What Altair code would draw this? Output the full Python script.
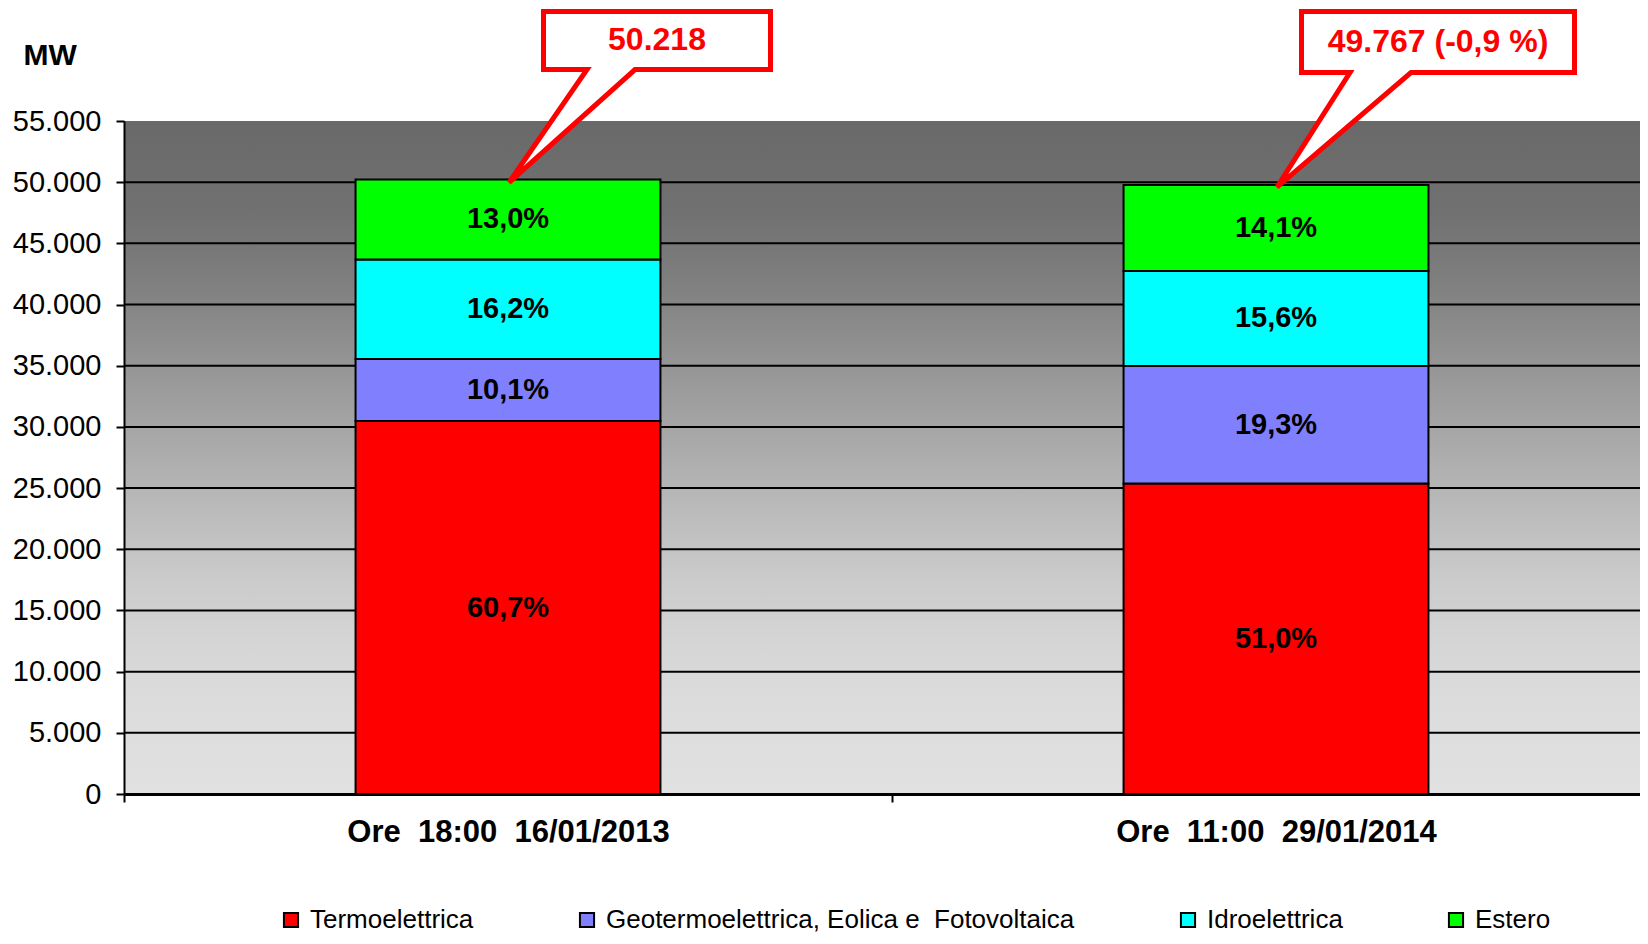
import altair as alt
import pandas as pd

# ---- data ----
categories = ["Ore\u00a0 18:00\u00a0 16/01/2013", "Ore\u00a0 11:00\u00a0 29/01/2014"]
sources = ["Termoelettrica", "Geotermoelettrica, Eolica e\u00a0 Fotovoltaica", "Idroelettrica", "Estero"]
colors = ["#FF0000", "#8080FF", "#00FFFF", "#00FF00"]

termo_mw = [30482, 25381]
geo_mw = [5072, 9605]
idro_mw = [8135, 7764]
estero_mw = [6528, 7017]

termo_pct = ["60,7%", "51,0%"]
geo_pct = ["10,1%", "19,3%"]
idro_pct = ["16,2%", "15,6%"]
estero_pct = ["13,0%", "14,1%"]

totals = [50218, 49767]
callout_labels = ["50.218", "49.767 (-0,9 %)"]

y_ticks = [0, 5000, 10000, 15000, 20000, 25000, 30000, 35000, 40000, 45000, 50000, 55000]
grid_values = [5000, 10000, 15000, 20000, 25000, 30000, 35000, 40000, 45000, 50000]

# ---- tables ----
rows = []
for si, (src, mws, pcts) in enumerate(zip(sources,
                                          [termo_mw, geo_mw, idro_mw, estero_mw],
                                          [termo_pct, geo_pct, idro_pct, estero_pct])):
    for ci, cat in enumerate(categories):
        rows.append({"cat": cat, "source": src, "mw": mws[ci], "pct": pcts[ci], "ord": si})
df = pd.DataFrame(rows)
df_grid = pd.DataFrame({"v": grid_values})
df_bg = pd.DataFrame({"a": [0]})
df_call1 = pd.DataFrame({"cat": [categories[0]], "total": [totals[0]], "label": [callout_labels[0]]})
df_call2 = pd.DataFrame({"cat": [categories[1]], "total": [totals[1]], "label": [callout_labels[1]]})

FONT = "Liberation Sans, Arial, Helvetica, sans-serif"

# the original plot area runs past the right edge of the picture
xscale = alt.Scale(domain=categories, paddingInner=0, paddingOuter=0, range=[0, 1536])
yscale = alt.Scale(domain=[0, 55000], nice=False, zero=True)

x_axis = alt.Axis(title=None, labelAngle=0, labelFont=FONT, labelFontSize=31,
                  labelFontWeight="bold", labelColor="black", labelPadding=15, labelLimit=0,
                  tickBand="extent", tickSize=8, tickColor="black", tickWidth=2,
                  domainColor="black", domainWidth=3, grid=False, zindex=1)

y_axis = alt.Axis(title="MW", titleAngle=0, titleX=-101, titleY=-57,
                  titleAlign="left", titleBaseline="alphabetic",
                  titleFont=FONT, titleFontSize=30, titleFontWeight="bold",
                  titleColor="black",
                  values=y_ticks, labelExpr="replace(format(datum.value, ','), ',', '.')",
                  labelFont=FONT, labelFontSize=29, labelColor="black", labelPadding=15,
                  tickSize=8, tickColor="black", tickWidth=2,
                  domainColor="black", domainWidth=2, grid=False, zindex=1)

def xenc():
    return alt.X("cat:N", scale=xscale, sort=categories, axis=x_axis)

# background gradient
grad = alt.Gradient(
    gradient="linear", x1=0, x2=0, y1=0, y2=1,
    stops=[
        alt.GradientStop(offset=0.0, color="#696969"),
        alt.GradientStop(offset=0.136, color="#717171"),
        alt.GradientStop(offset=0.227, color="#7d7d7d"),
        alt.GradientStop(offset=0.318, color="#8d8d8d"),
        alt.GradientStop(offset=0.409, color="#9d9d9d"),
        alt.GradientStop(offset=0.5, color="#adadad"),
        alt.GradientStop(offset=0.591, color="#bdbdbd"),
        alt.GradientStop(offset=0.682, color="#cbcbcb"),
        alt.GradientStop(offset=0.773, color="#d5d5d5"),
        alt.GradientStop(offset=0.864, color="#dcdcdc"),
        alt.GradientStop(offset=1.0, color="#e1e1e1"),
    ],
)
bg = alt.Chart(df_bg).mark_rect(color=grad).encode(
    x=alt.value(0), x2=alt.value("width"), y=alt.value(0), y2=alt.value("height")
)

grid = alt.Chart(df_grid).mark_rule(color="black", strokeWidth=2).encode(
    y=alt.Y("v:Q", scale=yscale, axis=y_axis),
    x=alt.value(0), x2=alt.value("width"),
)

bars = alt.Chart(df).mark_bar(stroke="black", strokeWidth=2, opacity=1,
                              width=alt.RelativeBandSize(0.397)).encode(
    x=xenc(),
    y=alt.Y("mw:Q", scale=yscale, stack="zero", axis=y_axis),
    color=alt.Color("source:N", scale=alt.Scale(domain=sources, range=colors),
                    legend=alt.Legend(orient="none", legendX=154, legendY=786,
                                      direction="horizontal", title=None,
                                      labelFont=FONT, labelFontSize=26, labelColor="black",
                                      labelOffset=6, columnPadding=100, labelLimit=0,
                                      symbolType="square", symbolSize=200,
                                      symbolStrokeColor="black", symbolStrokeWidth=2,
                                      symbolOpacity=1, padding=0)),
    order=alt.Order("ord:Q", sort="ascending"),
)

labels = alt.Chart(df).transform_stack(
    stack="mw", groupby=["cat"], sort=[alt.SortField("ord", order="ascending")], as_=["y0", "y1"]
).transform_calculate(mid="(datum.y0 + datum.y1) / 2").mark_text(
    font=FONT, fontSize=29, fontWeight="bold", color="black", align="center", baseline="middle"
).encode(
    x=xenc(),
    y=alt.Y("mid:Q", scale=yscale, axis=y_axis),
    text="pct:N",
)

path1 = "M0.01,0.03 L0.79,-1.10 L0.355,-1.10 L0.355,-1.68 L2.625,-1.68 L2.625,-1.10 L1.27,-1.10 Z"
path2 = "M0.01,0.02 L0.74,-1.125 L0.255,-1.125 L0.255,-1.735 L2.985,-1.735 L2.985,-1.125 L1.35,-1.125 Z"

def callout(d, path, dx, dy):
    box = alt.Chart(d).mark_point(shape=path, size=40000, filled=True, fill="white",
                                  stroke="#FF0000", strokeWidth=5, opacity=1,
                                  fillOpacity=1, strokeOpacity=1).encode(
        x=xenc(),
        y=alt.Y("total:Q", scale=yscale, axis=y_axis),
    )
    txt = alt.Chart(d).mark_text(font=FONT, fontSize=32, fontWeight="bold", color="#FF0000",
                                 align="center", baseline="middle", dx=dx, dy=dy).encode(
        x=xenc(),
        y=alt.Y("total:Q", scale=yscale, axis=y_axis),
        text="label:N",
    )
    return box + txt

chart = alt.layer(
    bg, grid, bars, labels,
    callout(df_call1, path1, 149, -140),
    callout(df_call2, path2, 162, -143),
).properties(
    width=1516, height=673,
    autosize=alt.AutoSizeParams(type="none"),
    padding={"left": 116, "top": 113, "right": 0, "bottom": 142},
).configure_view(stroke=None).configure(background="white")

chart.save("out.html", embed_options={"renderer": "svg", "actions": False})
